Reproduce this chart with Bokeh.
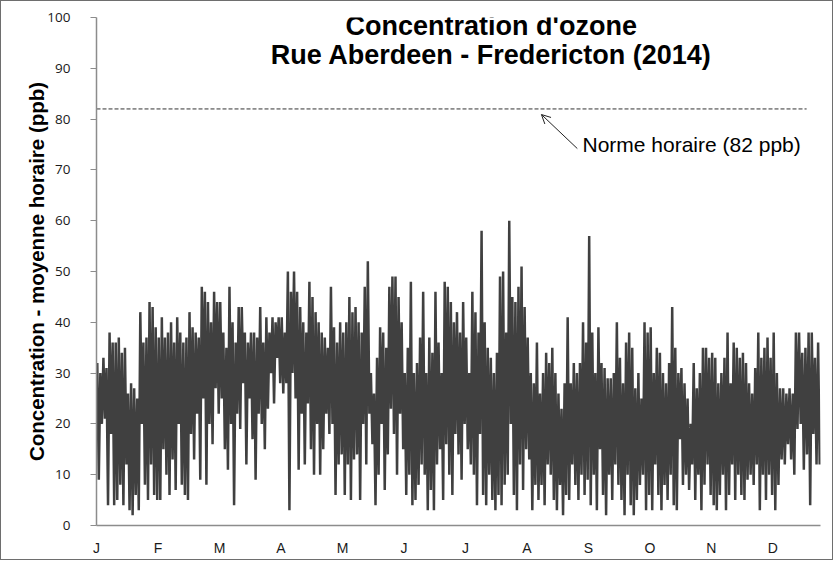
from bokeh.plotting import figure
from bokeh.models import Range1d, FixedTicker, SingleIntervalTicker, Label, Arrow, OpenHead
from bokeh.embed import file_html
from bokeh.resources import INLINE

# Month tick labels (one label every 31 days, as in the source chart)
month_labels = ["J", "F", "M", "A", "M", "J", "J", "A", "S", "O", "N", "D"]

# Hourly ozone concentration (ppb), read as alternating peaks / troughs per 31-day block
seg_01 = [32, 9, 30, 20, 33, 21, 31, 4, 38, 18, 36, 4, 36, 5, 37, 8, 34, 4, 35, 12,
          26, 3, 28, 2, 27, 6, 25, 3, 42, 20, 36, 8, 37, 5, 44, 12, 43, 6, 39, 5]
seg_02 = [37, 5, 41, 15, 37, 10, 38, 6, 40, 13, 36, 7, 41, 20, 38, 8, 36, 6, 37, 5,
          42, 18, 39, 13, 38, 22, 37, 9, 47, 25, 46, 8, 44, 20, 40, 16, 46, 27, 44, 22]
seg_03 = [44, 25, 38, 15, 35, 11, 47, 20, 40, 4, 36, 22, 43, 19, 43, 28, 38, 12, 36, 25,
          38, 17, 38, 9, 37, 22, 43, 20, 36, 15, 41, 23, 38, 30, 41, 24, 40, 33, 41, 28]
seg_04 = [41, 26, 38, 28, 50, 3, 46, 30, 50, 25, 46, 11, 43, 22, 40, 12, 38, 24, 48, 15,
          45, 10, 42, 20, 40, 10, 38, 15, 37, 22, 35, 18, 47, 20, 39, 6, 36, 12, 40, 14]
seg_05 = [38, 6, 40, 12, 45, 5, 42, 13, 43, 14, 40, 5, 38, 20, 47, 12, 52, 22, 30, 16,
          26, 4, 33, 10, 39, 20, 38, 7, 35, 14, 47, 23, 49, 18, 49, 10, 45, 22, 40, 15]
seg_06 = [30, 6, 35, 10, 48, 4, 30, 5, 32, 8, 37, 12, 46, 10, 30, 3, 37, 7, 34, 3,
          46, 12, 36, 15, 30, 5, 48, 16, 47, 10, 44, 6, 40, 18, 42, 14, 38, 9, 44, 20]
seg_07 = [37, 15, 30, 12, 46, 10, 42, 4, 38, 18, 58, 6, 40, 4, 35, 10, 33, 5, 30, 3,
          34, 6, 49, 4, 50, 8, 38, 10, 60, 20, 45, 6, 44, 3, 47, 12, 51, 7, 43, 15]
seg_08 = [37, 13, 30, 3, 28, 8, 36, 5, 26, 8, 30, 4, 34, 12, 32, 10, 35, 5, 30, 3,
          26, 8, 23, 2, 28, 6, 41, 5, 28, 12, 32, 8, 30, 5, 32, 10, 40, 6, 36, 9]
seg_09 = [57, 4, 38, 10, 30, 3, 39, 15, 32, 6, 31, 2, 29, 10, 29, 5, 30, 12, 40, 8,
          33, 5, 28, 2, 36, 10, 38, 4, 35, 2, 27, 5, 30, 8, 25, 10, 40, 3, 38, 6]
seg_10 = [39, 3, 30, 12, 35, 6, 34, 3, 30, 8, 28, 5, 32, 10, 43, 4, 35, 3, 30, 17,
          31, 8, 28, 10, 25, 7, 20, 12, 32, 5, 27, 10, 30, 3, 35, 8, 35, 12, 33, 6]
seg_11 = [34, 4, 33, 3, 28, 6, 30, 10, 33, 3, 38, 6, 28, 12, 36, 5, 35, 10, 33, 6,
          34, 5, 32, 9, 28, 10, 26, 8, 31, 12, 38, 3, 33, 10, 35, 5, 37, 10, 33, 6]
seg_12 = [38, 3, 30, 8, 27, 13, 27, 12, 26, 16, 27, 13, 26, 10, 38, 19, 38, 20, 34, 11,
          35, 14, 38, 4, 38, 18, 33, 12, 36, 12]

segments = [seg_01, seg_02, seg_03, seg_04, seg_05, seg_06,
            seg_07, seg_08, seg_09, seg_10, seg_11, seg_12]

norm_value = 82
days_in_year = 365
block = 31

xs, ys = [], []
for k, seg in enumerate(segments):
    start = block * k
    span = min(block, days_in_year - start)
    n = len(seg)
    xs += [start + span * (i + 0.5) / n for i in range(n)]
    ys += seg

p = figure(width=833, height=560, output_backend="svg", toolbar_location=None,
           x_range=Range1d(0, days_in_year), y_range=Range1d(0, 100),
           min_border_left=95, min_border_right=14, min_border_top=16, min_border_bottom=36)
p.styles = {"border": "1px solid #6e6e6e"}
p.outline_line_color = None
p.xgrid.grid_line_color = None
p.ygrid.grid_line_color = None
p.background_fill_color = "white"
p.border_fill_color = "white"

p.line(xs, ys, line_color="#404040", line_width=2.5)

# hourly standard (dashed)
p.line([0, 358], [norm_value, norm_value], line_color="#333333", line_width=1, line_dash="4 2")

# axes
ticks = [block * i for i in range(12)]
p.xaxis.ticker = FixedTicker(ticks=ticks)
p.xaxis.major_label_overrides = {t: m for t, m in zip(ticks, month_labels)}
p.xaxis.major_tick_out = 0
p.xaxis.major_tick_in = 0
p.xaxis.minor_tick_out = 0
p.xaxis.minor_tick_in = 0
p.xaxis.axis_line_color = "#8c8c8c"
p.xaxis.axis_line_width = 1.5
p.xaxis.major_label_standoff = 14
p.xaxis.major_label_text_font = "Liberation Sans"
p.xaxis.major_label_text_font_size = "14px"
p.xaxis.major_label_text_color = "#1a1a1a"

p.yaxis.ticker = SingleIntervalTicker(interval=10)
p.yaxis.major_tick_out = 6
p.yaxis.major_tick_in = 0
p.yaxis.minor_tick_out = 0
p.yaxis.minor_tick_in = 0
p.yaxis.axis_line_color = "#8c8c8c"
p.yaxis.axis_line_width = 1.5
p.yaxis.major_tick_line_color = "#8c8c8c"
p.yaxis.major_label_standoff = 20
p.yaxis.major_label_text_font = "Open Sans"
p.yaxis.major_label_text_font_size = "13.5px"
p.yaxis.major_label_text_color = "#1a1a1a"
p.yaxis.axis_label = "Concentration - moyenne horaire (ppb)"
p.yaxis.axis_label_text_font = "Liberation Sans"
p.yaxis.axis_label_text_font_style = "bold"
p.yaxis.axis_label_text_font_size = "20.5px"
p.yaxis.axis_label_text_color = "black"
p.yaxis.axis_label_standoff = -4

# title (two lines)
p.add_layout(Label(x=199, y=98.3, text="Concentration d'ozone", text_align="center",
                   text_baseline="alphabetic", text_font="Liberation Sans",
                   text_font_style="bold", text_font_size="27px", text_color="black"))
p.add_layout(Label(x=199, y=92.7, text="Rue Aberdeen - Fredericton (2014)", text_align="center",
                   text_baseline="alphabetic", text_font="Liberation Sans",
                   text_font_style="bold", text_font_size="27px", text_color="black"))

# annotation for the standard
p.add_layout(Arrow(end=OpenHead(size=9, line_width=1, line_color="#222222"),
                   x_start=242.4, y_start=74.2, x_end=224.3, y_end=80.9,
                   line_width=1, line_color="#222222"))
p.add_layout(Label(x=245, y=75, text="Norme horaire (82 ppb)", text_align="left",
                   text_baseline="middle", text_font="Liberation Sans",
                   text_font_size="21px", text_color="black"))

open("out.html", "w").write(file_html(p, INLINE))
